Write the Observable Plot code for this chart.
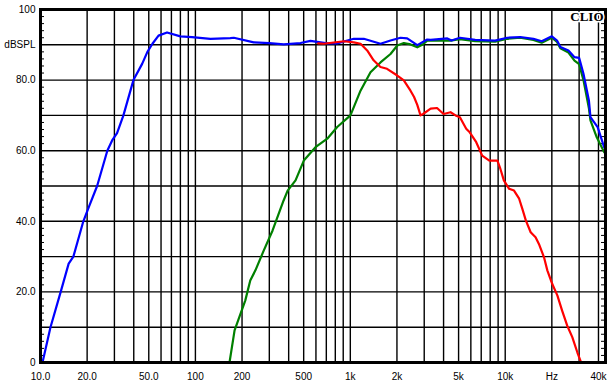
<!DOCTYPE html>
<html><head><meta charset="utf-8">
<script src="https://cdn.jsdelivr.net/npm/d3@7"></script>
<script src="https://cdn.jsdelivr.net/npm/@observablehq/plot@0.6"></script>
<style>body{margin:0;background:#fff;} svg{display:block;}</style>
</head><body><div id="chart"></div>
<script>
// Sum response (blue)
const blueFreq = [10.3, 11.6, 13.5, 15.2, 16.3, 18.9, 20.5, 23.2, 27.0, 29.0, 31.2, 34.3, 39.8, 45.3, 49, 52.8, 57.8, 65.6, 80, 95, 125, 168, 177, 238, 300, 372, 477, 553, 710, 823, 1054, 1222, 1566, 1818, 2109, 2330, 2706, 3136, 3300, 4229, 4500, 5100, 6400, 8600, 10300, 12500, 15200, 17200, 20000, 21600, 22700, 25600, 28000, 30000, 32000, 34700, 35500, 39500, 43500, 44300];
const blueDb   = [0, 10, 20, 28, 30, 40, 44, 50, 60, 62.9, 65, 70, 80, 84.6, 88, 90.3, 92.6, 93.5, 92.4, 92.2, 91.7, 91.9, 92.0, 90.7, 90.5, 90.1, 90.5, 91.1, 90.4, 90.4, 91.7, 91.7, 90.3, 91.2, 92.0, 91.8, 89.9, 91.5, 91.4, 91.8, 91.2, 92.0, 91.4, 91.2, 92.0, 92.2, 91.7, 91.0, 92.4, 91.2, 89.4, 88.4, 86.5, 86.3, 81.8, 74.2, 69.5, 66.7, 61.0, 60.5];
// Woofer (red)
const redFreq = [620, 673, 910, 1054, 1164, 1285, 1414, 1566, 1726, 2010, 2215, 2447, 2580, 2706, 2840, 2950, 3300, 3630, 4000, 4436, 4780, 5100, 5600, 5900, 6500, 7100, 7900, 8900, 9300, 9800, 10600, 11400, 12300, 12900, 13600, 14600, 15700, 16500, 17800, 18700, 20100, 21700, 23300, 25100, 27100, 29200, 30900];
const redDb   = [90.4, 90.3, 91.0, 90.7, 90.3, 88.4, 85.6, 83.7, 83.2, 81.3, 79.9, 77.0, 75.2, 73.0, 70.0, 70.4, 71.9, 72.1, 70.4, 70.9, 70.0, 69.5, 66.2, 65.2, 62.4, 58.6, 57.2, 57.2, 54.9, 51.6, 49.2, 48.7, 46.4, 43.5, 40.2, 36.9, 35.5, 33.6, 29.8, 26.1, 22.3, 19.0, 14.7, 10.5, 7.2, 2.9, 0];
// Tweeter (green)
const greenFreq = [166, 179, 210, 226, 244, 276, 315, 371, 394, 443, 501, 596, 710, 823, 1002, 1164, 1350, 1566, 1818, 2010, 2215, 2447, 2706, 2912, 3136, 4436, 5100, 6400, 8600, 10300, 12500, 15200, 17200, 20000, 21600, 22700, 25600, 28000, 30000, 32000, 34700, 35500, 39000, 43500, 44300];
const greenDb   = [0, 9.1, 17.6, 23.2, 26.1, 31.7, 37.4, 45.9, 48.7, 51.6, 57.2, 61.0, 63.4, 66.7, 70.0, 77.0, 82.2, 85.0, 87.4, 89.8, 90.5, 90.1, 89.3, 90.0, 91.2, 91.2, 91.6, 91.0, 90.9, 91.7, 92.0, 91.4, 90.6, 92.0, 90.8, 89.0, 87.8, 85.5, 84.5, 80.0, 72.0, 68.6, 63.8, 59.6, 59.2];

const xTickVals = [10, 20, 50, 100, 200, 500, 1000, 2000, 5000, 10000, 20000, 40000];
const xTickLabels = ["10.0", "20.0", "50.0", "100", "200", "500", "1k", "2k", "5k", "10k", "Hz", "40k"];
const yTickVals = [0, 20, 40, 60, 80, 90, 100];
const yTickLabels = ["0", "20.0", "40.0", "60.0", "80.0", "dBSPL", "100"];
const vGrid = [20,30,40,50,60,70,80,90,100,200,300,400,500,600,700,800,900,1000,2000,3000,4000,5000,6000,7000,8000,9000,10000,20000,30000,40000];
const hGrid = [10,20,30,40,50,60,70,80,90];
const minorY = d3.range(2, 100, 2).filter(v => v % 10 !== 0);

const toRows = (fs, ds) => fs.map((f, i) => ({f, db: ds[i]}));
const blue = toRows(blueFreq, blueDb);
const red = toRows(redFreq, redDb);
const green = toRows(greenFreq, greenDb);
const xLabels = xTickVals.map((v, i) => ({v, label: xTickLabels[i]}));

const W = 613, H = 389, mL = 40, mR = 8, mT = 9, mB = 27;
const plotW = W - mL - mR;
const yMap = new Map(yTickVals.map((v, i) => [v, yTickLabels[i]]));

const chart = Plot.plot({
  width: W, height: H,
  marginLeft: mL, marginRight: mR, marginTop: mT, marginBottom: mB,
  style: {fontFamily: "'Liberation Sans', Arial, sans-serif", fontSize: "10px", background: "#fff", color: "#000"},
  x: {type: "log", domain: [10, 44400], axis: null},
  y: {domain: [0, 100]},
  marks: [
    Plot.ruleX(vGrid, {stroke: "#000", strokeWidth: 1.4}),
    Plot.ruleY(hGrid, {stroke: "#000", strokeWidth: 1.4}),
    Plot.ruleY(minorY, {stroke: "#000", strokeWidth: 1, insetRight: plotW - 4}),
    Plot.ruleY(minorY, {stroke: "#000", strokeWidth: 1, insetLeft: plotW - 4}),
    Plot.line(green, {x: "f", y: "db", stroke: "#008000", strokeWidth: 2.2, clip: true}),
    Plot.line(blue, {x: "f", y: "db", stroke: "#0000ff", strokeWidth: 2.2, clip: true}),
    Plot.line(red, {x: "f", y: "db", stroke: "#ff0000", strokeWidth: 2.2, clip: true}),
    Plot.frame({stroke: "#000", strokeWidth: 3}),
    Plot.text(["CLIO"], {frameAnchor: "top-right", text: d => d, dx: -2, dy: 2, textAnchor: "end", lineAnchor: "top",
      fontFamily: "'Liberation Serif', 'Times New Roman', serif", fontWeight: "bold", fontSize: 13,
      fill: "#000", stroke: "#fff", strokeWidth: 3, paintOrder: "stroke"}),
    Plot.text(xLabels, {x: "v", text: "label", frameAnchor: "bottom", lineAnchor: "top", dy: 10, fontSize: 10, fill: "#000"}),
    Plot.axisY(yTickVals, {tickFormat: d => yMap.get(d), tickSize: 0, tickPadding: 5, fontSize: 10, label: null})
  ]
});
document.getElementById("chart").appendChild(chart);
</script>
</body></html>
